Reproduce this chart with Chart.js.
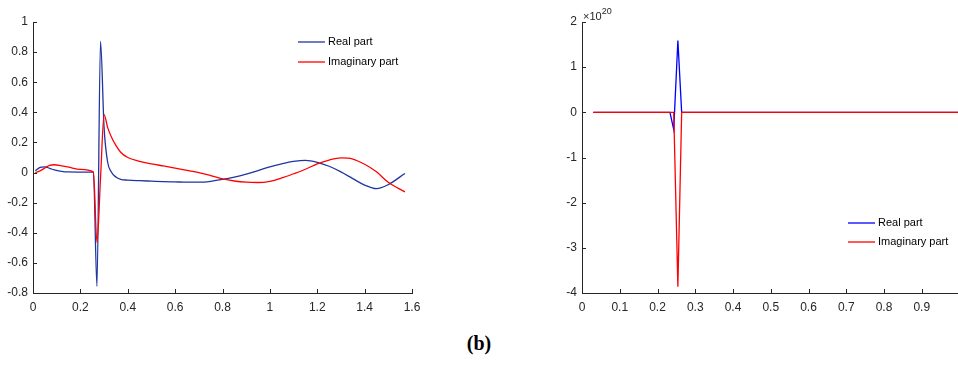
<html>
<head>
<style>
  body { margin: 0; background: #fff; width: 958px; height: 367px; overflow: hidden; position: relative; }
  .box { position: absolute; top: 0; height: 330px; }
  #caption { position: absolute; top: 332px; left: 0; width: 958px; text-align: center;
             font: bold 20px "Liberation Serif", "DejaVu Serif", serif; color: #000; }
</style>
</head>
<body>
<div class="box" style="left:0;width:440px"><canvas id="leftChart"></canvas></div>
<div class="box" style="left:540px;width:418px"><canvas id="rightChart"></canvas></div>
<div id="caption">(b)</div>
<script src="https://cdn.jsdelivr.net/npm/chart.js@4/dist/chart.umd.min.js"></script>
<script>
    // left panel, x in rad
    const leftX = [0.01, 0.03, 0.05, 0.07, 0.09, 0.12, 0.15, 0.2, 0.255, 0.27, 0.285, 0.30, 0.315, 0.33, 0.35, 0.37,
                   0.4, 0.45, 0.5, 0.55, 0.6, 0.65, 0.7, 0.75, 0.8, 0.85, 0.9, 0.95, 1.0, 1.05, 1.1, 1.15, 1.2,
                   1.25, 1.3, 1.35, 1.4, 1.45, 1.5, 1.57];
    const leftReal = [0.012, 0.034, 0.038, 0.028, 0.017, 0.008, 0.004, 0.003, 0.003, -0.755, 0.872, 0.30, 0.07, 0.005, -0.03, -0.045,
                      -0.05, -0.054, -0.057, -0.06, -0.062, -0.064, -0.064, -0.058, -0.046, -0.03, -0.01, 0.013, 0.038, 0.058, 0.074, 0.081, 0.068,
                      0.042, 0.005, -0.04, -0.083, -0.107, -0.08, -0.006];
    const leftImag = [0.0, 0.011, 0.03, 0.048, 0.052, 0.045, 0.036, 0.021, 0.003, -0.465, -0.04, 0.385, 0.30, 0.24, 0.18, 0.135,
                      0.10, 0.075, 0.058, 0.044, 0.03, 0.015, 0.0, -0.02, -0.042, -0.056, -0.064, -0.066, -0.058, -0.036, -0.008, 0.022, 0.058,
                      0.083, 0.097, 0.09, 0.055, 0.005, -0.065, -0.128];
    const leftXTicks = [0, 0.2, 0.4, 0.6, 0.8, 1, 1.2, 1.4, 1.6];
    const leftYTicks = [-0.8, -0.6, -0.4, -0.2, 0, 0.2, 0.4, 0.6, 0.8, 1];

    // right panel, values x 1e20
    const rightXReal = [0.03, 0.233, 0.243, 0.254, 0.264, 1.0];
    const rightReal = [0, 0, -0.38e20, 1.59e20, 0, 0];
    const rightXImag = [0.03, 0.243, 0.254, 0.264, 1.0];
    const rightImag = [0, 0, -3.86e20, 0, 0];
    const rightXTicks = [0, 0.1, 0.2, 0.3, 0.4, 0.5, 0.6, 0.7, 0.8, 0.9];
    const rightYTicks = [-4, -3, -2, -1, 0, 1, 2];

    const labels = ["Real part", "Imaginary part"];
    const axisColor = "#262626";
    const tickFont = { family: "Liberation Sans, Arial, sans-serif", size: 12 };

    function pts(xs, ys) { return xs.map((x, i) => ({ x: x, y: ys[i] })); }

    const inwardTicks = {
        id: "inwardTicks",
        afterDraw(chart) {
            const ctx = chart.ctx, a = chart.chartArea;
            const xs = chart.scales.x, ys = chart.scales.y;
            ctx.save();
            ctx.strokeStyle = axisColor;
            ctx.lineWidth = 1;
            ctx.beginPath();
            xs.ticks.forEach((t, i) => {
                const px = Math.round(xs.getPixelForTick(i)) + 0.5;
                ctx.moveTo(px, a.bottom); ctx.lineTo(px, a.bottom - 4);
            });
            ys.ticks.forEach((t, i) => {
                const py = Math.round(ys.getPixelForTick(i)) + 0.5;
                ctx.moveTo(a.left, py); ctx.lineTo(a.left + 4, py);
            });
            ctx.stroke();
            ctx.restore();
        }
    };

    const lineLegend = {
        id: "lineLegend",
        afterDraw(chart, args, opts) {
            const ctx = chart.ctx;
            ctx.save();
            ctx.font = "11px Liberation Sans, Arial, sans-serif";
            ctx.textBaseline = "middle";
            chart.data.datasets.forEach((ds, i) => {
                const y = opts.y + i * opts.gap;
                ctx.strokeStyle = ds.borderColor;
                ctx.lineWidth = 1.3;
                ctx.beginPath(); ctx.moveTo(opts.x, y); ctx.lineTo(opts.x + 27, y); ctx.stroke();
                ctx.fillStyle = "#000";
                ctx.fillText(ds.label, opts.x + 30, y);
            });
            ctx.restore();
        }
    };

    const expLabel = {
        id: "expLabel",
        afterDraw(chart, args, opts) {
            if (!opts.text) return;
            const ctx = chart.ctx, a = chart.chartArea;
            ctx.save();
            ctx.fillStyle = axisColor;
            ctx.textBaseline = "alphabetic";
            ctx.font = "11px Liberation Sans, Arial, sans-serif";
            const base = "\u00d710";
            ctx.fillText(base, a.left + 1, 20);
            const w = ctx.measureText(base).width;
            ctx.font = "9px Liberation Sans, Arial, sans-serif";
            ctx.fillText(opts.text, a.left + 1 + w, 14);
            ctx.restore();
        }
    };

    function makeChart(id, cfg) {
        return new Chart(id, {
            type: "line",
            data: {
                datasets: [
                    { label: labels[0], data: cfg.real, borderColor: cfg.blue, borderWidth: 1.3, pointRadius: 0,
                      cubicInterpolationMode: cfg.interp, fill: false, order: 1 },
                    { label: labels[1], data: cfg.imag, borderColor: "#ff0000", borderWidth: 1.3, pointRadius: 0,
                      cubicInterpolationMode: cfg.interp, fill: false, order: 0 }
                ]
            },
            options: {
                responsive: true,
                maintainAspectRatio: false,
                animation: false,
                layout: { padding: { top: 22, right: cfg.padRight, left: 0, bottom: 0 } },
                plugins: {
                    legend: { display: false },
                    tooltip: { enabled: false },
                    lineLegend: cfg.legend,
                    expLabel: { text: cfg.exp }
                },
                scales: {
                    x: {
                        type: "linear",
                        min: cfg.xMin, max: cfg.xMax,
                        afterBuildTicks: s => { s.ticks = cfg.xTicks.map(v => ({ value: v })); },
                        afterFit: s => { s.height = 37; },
                        grid: { drawOnChartArea: false, drawTicks: false },
                        border: { color: axisColor, width: 1 },
                        ticks: { font: tickFont, color: axisColor, padding: 7, maxRotation: 0, autoSkip: false,
                                 callback: v => String(Math.round(v * 10) / 10) }
                    },
                    y: {
                        type: "linear",
                        min: cfg.yMin, max: cfg.yMax,
                        afterBuildTicks: s => { s.ticks = cfg.yTicks.map(v => ({ value: v * cfg.yUnit })); },
                        afterFit: s => { s.width = cfg.yWidth; },
                        grid: { drawOnChartArea: false, drawTicks: false },
                        border: { color: axisColor, width: 1 },
                        ticks: { font: tickFont, color: axisColor, padding: 5, autoSkip: false,
                                 callback: v => String(Math.round(v / cfg.yUnit * 10) / 10) }
                    }
                }
            },
            plugins: [inwardTicks, lineLegend, expLabel]
        });
    }

    makeChart("leftChart", {
        real: pts(leftX, leftReal), imag: pts(leftX, leftImag), blue: "#1f35a0", interp: "monotone",
        xMin: 0, xMax: 1.6, yMin: -0.8, yMax: 1, yUnit: 1,
        xTicks: leftXTicks, yTicks: leftYTicks, yWidth: 33, padRight: 28,
        legend: { x: 298, y: 42, gap: 20 }, exp: ""
    });

    makeChart("rightChart", {
        real: pts(rightXReal, rightReal), imag: pts(rightXImag, rightImag), blue: "#0000ff", interp: "default",
        xMin: 0, xMax: 0.996, yMin: -4e20, yMax: 2e20, yUnit: 1e20,
        xTicks: rightXTicks, yTicks: rightYTicks, yWidth: 42, padRight: 0,
        legend: { x: 308, y: 223, gap: 19 }, exp: "20"
    });
</script>
</body>
</html>
